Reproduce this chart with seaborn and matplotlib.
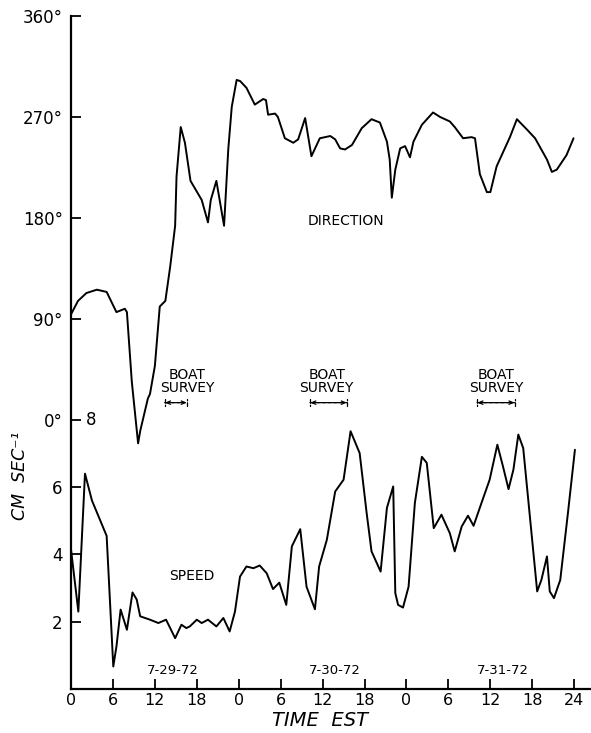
import numpy as np
import pandas as pd
import matplotlib
matplotlib.use("Agg")
import matplotlib.pyplot as plt
import seaborn as sns

# current meter record, 7-29-72 .. 7-31-72, time in hours from start
dir_hours = [0, 1.0, 2.2, 3.7, 5.1, 6.5, 7.7, 8.0, 8.7, 9.6, 9.9, 11.0, 11.3, 12.0,
             12.7, 13.5, 14.2, 14.9, 15.1, 15.7, 16.3, 17.1, 18.7, 19.6, 20.0, 20.8,
             21.9, 22.5, 23.0, 23.7, 24.2, 25.1, 26.3, 27.5, 27.9, 28.2, 29.2, 29.6,
             30.6, 31.8, 32.5, 33.5, 34.4, 35.6, 37.1, 37.8, 38.5, 39.2, 40.2, 41.6,
             43.0, 44.2, 45.2, 45.6, 45.9, 46.4, 47.1, 47.8, 48.5, 49.0, 50.2, 51.8,
             52.8, 54.2, 54.9, 56.1, 57.3, 57.8, 58.5, 59.5, 60.0, 60.9, 62.8, 63.8,
             65.2, 66.4, 68.1, 68.8, 69.5, 70.9, 71.9]
direction_deg = [94, 106, 113, 116, 114, 96, 99, 96, 34, -21, -10, 19, 23, 48,
                 101, 106, 137, 173, 217, 261, 247, 213, 196, 176, 196, 213,
                 173, 241, 279, 303, 302, 296, 281, 286, 285, 272, 273, 270,
                 251, 247, 250, 269, 235, 251, 253, 250, 242, 241, 245, 260,
                 268, 265, 248, 232, 198, 223, 242, 244, 234, 248, 263, 274,
                 270, 266, 261, 251, 252, 251, 219, 203, 203, 226, 252, 268,
                 259, 251, 232, 221, 223, 236, 251]

spd_hours = [0, 1.05, 2.0, 3.0, 4.1, 5.1, 6.05, 6.5, 7.1, 8.0, 8.8, 9.4, 9.9, 11.3,
             12.5, 13.6, 14.9, 15.8, 16.5, 17.0, 18.0, 18.7, 19.6, 20.8, 21.8, 22.7,
             23.46, 24.18, 25.1, 26.1, 27.0, 28.0, 28.9, 29.8, 30.8, 31.6, 32.8, 33.7,
             34.9, 35.5, 36.6, 37.8, 39.0, 40.0, 41.3, 42.3, 43.0, 44.3, 45.2, 46.1,
             46.4, 46.8, 47.5, 48.3, 49.2, 50.2, 50.9, 51.9, 53.0, 54.2, 54.9, 55.9,
             56.8, 57.6, 58.8, 59.9, 61.0, 61.8, 62.6, 63.3, 64.0, 64.7, 65.7, 66.7,
             67.3, 68.1, 68.5, 69.1, 70.0, 71.1, 72.1]
speed_cms = [4.15, 2.3, 6.4, 5.6, 5.05, 4.55, 0.67, 1.26, 2.36, 1.76, 2.87, 2.66, 2.16, 2.06,
             1.96, 2.06, 1.51, 1.91, 1.81, 1.86, 2.06, 1.96, 2.06, 1.86, 2.11, 1.71,
             2.3, 3.34, 3.64, 3.59, 3.67, 3.44, 2.97, 3.16, 2.5, 4.24, 4.75, 3.04,
             2.37, 3.64, 4.43, 5.87, 6.22, 7.66, 7.01, 5.23, 4.09, 3.49, 5.38, 6.02,
             2.85, 2.5, 2.42, 3.04, 5.53, 6.9, 6.72, 4.78, 5.18, 4.63, 4.09, 4.83,
             5.15, 4.85, 5.57, 6.22, 7.26, 6.62, 5.94, 6.52, 7.56, 7.16, 5.03, 2.9,
             3.24, 3.94, 2.9, 2.7, 3.24, 5.23, 7.11]

hour_ticks = list(range(0, 73, 6))
hour_labels = ["0", "6", "12", "18", "0", "6", "12", "18", "0", "6", "12", "18", "24"]
deg_ticks = [0, 90, 180, 270, 360]
speed_ticks = [2, 4, 6]
dates = ["7-29-72", "7-30-72", "7-31-72"]
date_hours = [14.6, 37.8, 61.8]
survey_start = [13.4, 34.2, 58.1]
survey_end = [16.6, 39.5, 63.5]
survey_text_hours = [16.6, 36.6, 60.8]

# direction is drawn above the speed trace: 0 deg sits at 8 cm/s, 90 deg = 3 units
DEG_BASE = 8.0
DEG_PER_UNIT = 30.0

df_dir = pd.DataFrame({"hour": dir_hours,
                       "y": DEG_BASE + np.array(direction_deg) / DEG_PER_UNIT})
df_spd = pd.DataFrame({"hour": spd_hours, "y": speed_cms})

sns.set_style("ticks")
plt.rcParams["font.family"] = ["DejaVu Sans"]
plt.rcParams["text.color"] = "black"
plt.rcParams["xtick.color"] = "black"
plt.rcParams["ytick.color"] = "black"

fig = plt.figure(figsize=(5.91, 7.33), dpi=100)
ax = fig.add_axes([71 / 591, 44 / 733, 520 / 591, 673 / 733])

sns.lineplot(data=df_dir, x="hour", y="y", ax=ax, color="black", lw=1.4,
             estimator=None, sort=False)
sns.lineplot(data=df_spd, x="hour", y="y", ax=ax, color="black", lw=1.4,
             estimator=None, sort=False)

ax.set_xlim(0, 74.4)
ax.set_ylim(0, 20)
sns.despine(ax=ax)
for s in ["left", "bottom"]:
    ax.spines[s].set_linewidth(1.6)
    ax.spines[s].set_color("black")

ax.set_xticks(hour_ticks)
ax.set_xticklabels(hour_labels, fontsize=11.5)
deg_pos = [DEG_BASE + d / DEG_PER_UNIT for d in deg_ticks]
ax.set_yticks(speed_ticks + deg_pos)
ax.set_yticklabels([str(v) for v in speed_ticks] + [f"{d}°" for d in deg_ticks], fontsize=12)
ax.tick_params(axis="both", direction="in", length=7, width=1.3, colors="black",
               labelcolor="black")
ax.tick_params(axis="y", pad=6)
ax.tick_params(axis="x", pad=3)
ax.set_xlabel("")
ax.set_ylabel("")

# speed label "8" shares the 0 deg tick
ax.text(2.9, DEG_BASE, "8", fontsize=12, ha="center", va="center")

fig.text(320 / 591, 1 - 721 / 733, "TIME  EST", fontsize=14, style="italic",
         ha="center", va="center")
fig.text(20 / 591, 1 - 476 / 733, "CM  SEC⁻¹", fontsize=12.5, style="italic",
         rotation=90, ha="center", va="center")

ax.text(39.3, 13.9, "DIRECTION", fontsize=10, ha="center", va="center")
ax.text(17.3, 3.36, "SPEED", fontsize=10, ha="center", va="center")

for xs, xe, xt in zip(survey_start, survey_end, survey_text_hours):
    ax.text(xt, 9.14, "BOAT\nSURVEY", fontsize=10, ha="center", va="center",
            linespacing=0.95)
    ax.annotate("", xy=(xe, 8.51), xytext=(xs, 8.51),
                arrowprops=dict(arrowstyle="|-|, widthA=0.25, widthB=0.25",
                                lw=0.9, color="black", linestyle=(0, (3, 1.5)),
                                shrinkA=0, shrinkB=0))
    ax.annotate("", xy=(xe, 8.51), xytext=(xs, 8.51),
                arrowprops=dict(arrowstyle="<->, head_length=0.3, head_width=0.12",
                                lw=0.9, color="black", shrinkA=0, shrinkB=0,
                                linestyle=(0, (3, 1.5))))

for d, h in zip(dates, date_hours):
    ax.text(h, 0.54, d, fontsize=9.5, ha="center", va="center")

fig.savefig("out.png", dpi=100)
